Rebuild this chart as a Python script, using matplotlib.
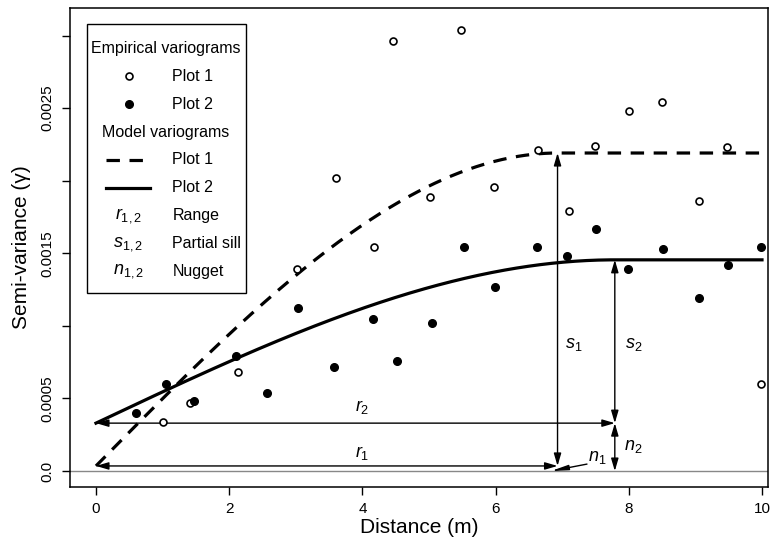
import numpy as np
import matplotlib
matplotlib.use('Agg')
import matplotlib.pyplot as plt

plt.rcParams['font.family'] = ['Liberation Sans', 'DejaVu Sans']
plt.rcParams['mathtext.fontset'] = 'custom'
plt.rcParams['mathtext.it'] = 'Liberation Sans:italic'
plt.rcParams['mathtext.rm'] = 'Liberation Sans'

# empirical variograms (distance m, semi-variance)
plot1_dist = [1.00, 1.41, 2.13, 3.02, 3.60, 4.17, 4.46, 5.02, 5.48, 5.98,
              6.64, 7.10, 7.49, 8.00, 8.50, 9.05, 9.47, 9.98]
plot1_gamma = [0.00034, 0.00047, 0.00068, 0.00139, 0.00202, 0.00154, 0.00296,
               0.00189, 0.00304, 0.00196, 0.00221, 0.00179, 0.00224, 0.00248,
               0.00254, 0.00186, 0.00223, 0.00060]
plot2_dist = [0.60, 1.05, 1.47, 2.10, 2.57, 3.03, 3.58, 4.16, 4.52, 5.05,
              5.52, 5.99, 6.62, 7.07, 7.51, 7.99, 8.51, 9.05, 9.49, 9.99]
plot2_gamma = [0.00040, 0.00060, 0.00048, 0.00079, 0.00054, 0.00112, 0.00072,
               0.00105, 0.00076, 0.00102, 0.00154, 0.00127, 0.00154, 0.00148,
               0.00167, 0.00139, 0.00153, 0.00119, 0.00142, 0.00154]

# spherical model fits: nugget, partial sill, range
nugget1, sill1, range1 = 0.000035, 0.002156, 6.93
nugget2, sill2, range2 = 0.00033, 0.001125, 7.79

yticks = [0.0, 0.0005, 0.0010, 0.0015, 0.0020, 0.0025, 0.0030]
ytick_labels = ['0.0', '0.0005', '', '0.0015', '', '0.0025', '']
xticks = [0, 2, 4, 6, 8, 10]


def spherical(h, n, s, r):
    h = np.asarray(h)
    g = n + s * (1.5 * h / r - 0.5 * (h / r) ** 3)
    return np.where(h < r, g, n + s)


fig = plt.figure(figsize=(7.7, 5.44), dpi=100, facecolor='white')
ax = fig.add_axes([70 / 770, 57 / 544, 698 / 770, 479 / 544])

ax.axhline(0, color='#888888', lw=1.0, zorder=1)

h = np.linspace(0, 10, 400)
ax.plot(h, spherical(h, nugget1, sill1, range1), color='black', lw=2.3,
        dashes=(4.2, 3.0), zorder=3)
ax.plot(h, spherical(h, nugget2, sill2, range2), color='black', lw=2.3, zorder=3)

ax.plot(plot1_dist, plot1_gamma, 'o', ms=5, mfc='white', mec='black', mew=1.2,
        ls='none', zorder=4)
ax.plot(plot2_dist, plot2_gamma, 'o', ms=5.5, mfc='black', mec='black',
        ls='none', zorder=4)

arrow = dict(arrowstyle='<|-|>,head_length=0.75,head_width=0.22',
             mutation_scale=10, lw=1.0, color='black', shrinkA=0, shrinkB=0)


def dbl_arrow(x0, y0, x1, y1):
    ax.annotate('', xy=(x1, y1), xytext=(x0, y0), arrowprops=arrow, zorder=2)


# ranges
dbl_arrow(0, nugget2, range2, nugget2)
dbl_arrow(0, nugget1, range1, nugget1)
# partial sills
dbl_arrow(range1, nugget1, range1, nugget1 + sill1)
dbl_arrow(range2, nugget2, range2, nugget2 + sill2)
# nuggets
dbl_arrow(range2, 0, range2, nugget2)
ax.annotate('', xy=(range1 - 0.1, 0.0), xytext=(26, 5), textcoords='offset points',
            arrowprops=dict(arrowstyle='-|>,head_length=1.0,head_width=0.15',
                            mutation_scale=10, lw=1.0, color='black',
                            shrinkA=0, shrinkB=0), zorder=2)

lab = dict(fontsize=13, ha='center', va='center')
ax.text(4.0, nugget2 + 0.00011, r'$\mathit{r_2}$', **lab)
ax.text(4.0, nugget1 + 0.00009, r'$\mathit{r_1}$', **lab)
ax.text(range1 + 0.25, 0.00087, r'$\mathit{s_1}$', **lab)
ax.text(range2 + 0.28, 0.00087, r'$\mathit{s_2}$', **lab)
ax.text(range2 + 0.28, 0.00017, r'$\mathit{n_2}$', **lab)
ax.text(range1 + 0.6, 0.00009, r'$\mathit{n_1}$', **lab)

ax.set_xlim(-0.39, 10.09)
ax.set_ylim(-0.00011, 0.00319)
ax.set_xticks(xticks)
ax.set_xticklabels([str(t) for t in xticks])
ax.set_yticks(yticks)
ax.set_yticklabels(ytick_labels, rotation=90, va='center')
ax.tick_params(direction='out', length=6, width=1.0, labelsize=11, pad=5)
for sp in ax.spines.values():
    sp.set_linewidth(1.1)
ax.set_xlabel('Distance (m)', fontsize=15, labelpad=1)
ax.set_ylabel('Semi-variance (\u03b3)', fontsize=15, labelpad=7)

# legend box drawn by hand (R style with section headers)
def fx(px):
    return (px - 70) / 698


def fy(py):
    return (487 - py) / 479


T = ax.transAxes
ax.add_patch(plt.Rectangle((fx(87), fy(293)), fx(246) - fx(87), fy(24) - fy(293),
                           transform=T, fill=True, fc='white', ec='black',
                           lw=1.0, zorder=5))
rows = [48.3 + 27.9 * i for i in range(9)]
sym_x, txt_x, mid_x = fx(128.5), fx(172.5), fx(166)
lk = dict(fontsize=11.5, va='center', transform=T, zorder=6)
ax.text(mid_x, fy(rows[0]), 'Empirical variograms', ha='center', **lk)
ax.plot([sym_x], [fy(rows[1])], 'o', ms=5, mfc='white', mec='black', mew=1.2,
        transform=T, zorder=6, clip_on=False)
ax.text(txt_x, fy(rows[1]), 'Plot 1', ha='left', **lk)
ax.plot([sym_x], [fy(rows[2])], 'o', ms=5.5, mfc='black', mec='black',
        transform=T, zorder=6, clip_on=False)
ax.text(txt_x, fy(rows[2]), 'Plot 2', ha='left', **lk)
ax.text(mid_x, fy(rows[3]), 'Model variograms', ha='center', **lk)
ax.plot([fx(106), fx(150)], [fy(rows[4])] * 2, color='black', lw=2.3,
        dashes=(4.2, 3.0), transform=T, zorder=6)
ax.text(txt_x, fy(rows[4]), 'Plot 1', ha='left', **lk)
ax.plot([fx(106), fx(150)], [fy(rows[5])] * 2, color='black', lw=2.3,
        transform=T, zorder=6)
ax.text(txt_x, fy(rows[5]), 'Plot 2', ha='left', **lk)
sk = dict(lk, fontsize=13)
for i, (sym, name) in enumerate([('r', 'Range'), ('s', 'Partial sill'),
                                 ('n', 'Nugget')]):
    ax.text(sym_x, fy(rows[6 + i]), r'$\mathit{%s_{1,2}}$' % sym, ha='center', **sk)
    ax.text(txt_x, fy(rows[6 + i]), name, ha='left', **lk)

fig.savefig('out.png', dpi=100, facecolor='white')
